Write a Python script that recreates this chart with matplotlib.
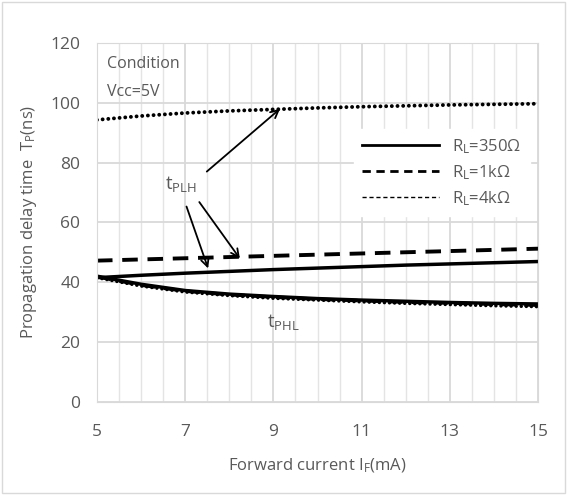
import numpy as np
import matplotlib
matplotlib.use('Agg')
import matplotlib.pyplot as plt
from matplotlib.lines import Line2D
from matplotlib.patches import Rectangle

plt.rcParams['font.family'] = ['Open Sans', 'DejaVu Sans']
plt.rcParams['mathtext.fontset'] = 'custom'
plt.rcParams['mathtext.rm'] = 'Open Sans'

# forward current (mA)
current = [5, 6, 7, 8, 9, 10, 11, 12, 13, 14, 15]

# tPLH curves (ns)
tplh_350 = [41.5, 42.3, 43.0, 43.6, 44.2, 44.7, 45.2, 45.7, 46.1, 46.5, 46.9]
tplh_1k = [47.2, 47.6, 48.0, 48.4, 48.8, 49.2, 49.6, 50.0, 50.4, 50.8, 51.2]
tplh_4k = [94.3, 95.6, 96.6, 97.3, 97.8, 98.3, 98.7, 99.0, 99.3, 99.5, 99.7]

# tPHL curves (ns)
tphl_350 = [42.0, 39.3, 37.2, 36.0, 35.2, 34.5, 34.0, 33.6, 33.2, 32.9, 32.7]
tphl_1k = [41.8, 39.0, 37.0, 35.8, 35.0, 34.3, 33.8, 33.3, 33.0, 32.6, 32.3]
tphl_4k = [41.5, 38.7, 36.7, 35.5, 34.6, 34.0, 33.4, 32.9, 32.5, 32.1, 31.8]

x_ticks = [5, 7, 9, 11, 13, 15]
x_minor = [5.5, 6, 6.5, 7.5, 8, 8.5, 9.5, 10, 10.5, 11.5, 12, 12.5, 13.5, 14, 14.5]
y_ticks = [0, 20, 40, 60, 80, 100, 120]

legend_labels = [r'R$\mathregular{_L}$=350Ω', r'R$\mathregular{_L}$=1kΩ', r'R$\mathregular{_L}$=4kΩ']

txt = '#595959'

fig = plt.figure(figsize=(5.67, 4.95), dpi=100)
fig.patches.append(Rectangle((0.004, 0.004), 0.992, 0.992, transform=fig.transFigure,
                             fill=False, edgecolor='#d9d9d9', linewidth=1))
ax = fig.add_axes([0.171, 0.1885, 0.778, 0.7245])

# minor vertical grid
for xm in x_minor:
    ax.axvline(xm, color='#e4e4e4', linewidth=1.0, zorder=0)

# tPLH
ax.plot(current, tplh_350, color='black', linewidth=2.5, solid_capstyle='butt')
ax.plot(current, tplh_1k, color='black', linewidth=2.8, linestyle=(0, (4, 2.5)))
ax.plot(current, tplh_4k, color='black', linewidth=2.8, linestyle=(0, (0.01, 1.45)),
        dash_capstyle='round')
# tPHL
ax.plot(current, tphl_4k, color='black', linewidth=2.5, linestyle=(0, (0.01, 1.45)),
        dash_capstyle='round')
ax.plot(current, tphl_1k, color='black', linewidth=2.5, linestyle=(0, (4, 2.5)))
ax.plot(current, tphl_350, color='black', linewidth=2.5)

ax.set_xlim(5, 15)
ax.set_ylim(0, 120)
ax.set_xticks(x_ticks)
ax.set_yticks(y_ticks)
ax.grid(True, which='major', color='#d9d9d9', linewidth=1.3)
ax.set_axisbelow(True)
for s in ax.spines.values():
    s.set_color('#d9d9d9')
ax.tick_params(which='both', length=0, colors=txt, labelsize=12.5)
ax.tick_params(axis='x', pad=16)
ax.tick_params(axis='y', pad=12)

ax.set_xlabel(r'Forward current I$\mathregular{_F}$(mA)', color=txt, fontsize=12, labelpad=12)
ax.set_ylabel(r'Propagation delay time  T$\mathregular{_P}$(ns)', color=txt, fontsize=12, labelpad=8)

ax.text(5.22, 113, 'Condition', color=txt, fontsize=11.5, va='center')
ax.text(5.22, 103.5, 'Vcc=5V', color=txt, fontsize=11.5, va='center')
ax.text(6.55, 73, r't$\mathregular{_{PLH}}$', color=txt, fontsize=13.5, va='center')
ax.text(8.85, 26.5, r't$\mathregular{_{PHL}}$', color=txt, fontsize=13.5, va='center')

arrow = dict(arrowstyle='->', color='black', linewidth=1.3, mutation_scale=14,
             shrinkA=0, shrinkB=0)
ax.annotate('', xy=(9.15, 98), xytext=(7.49, 77), arrowprops=arrow)
ax.annotate('', xy=(7.52, 44.6), xytext=(7.03, 65.3), arrowprops=arrow)
ax.annotate('', xy=(8.24, 47.9), xytext=(7.32, 66.8), arrowprops=arrow)

handles = [Line2D([], [], color='black', linewidth=2),
           Line2D([], [], color='black', linewidth=2, linestyle=(0, (3, 2))),
           Line2D([], [], color='black', linewidth=1, linestyle=(0, (3, 2)))]
leg = ax.legend(handles, legend_labels, loc='upper right', bbox_to_anchor=(1.0, 0.785),
                frameon=True, fancybox=False, framealpha=1, edgecolor='white',
                fontsize=12, handlelength=4.6, labelspacing=0.45, borderpad=0.5)
for t in leg.get_texts():
    t.set_color(txt)

plt.savefig('out.png', dpi=100)
